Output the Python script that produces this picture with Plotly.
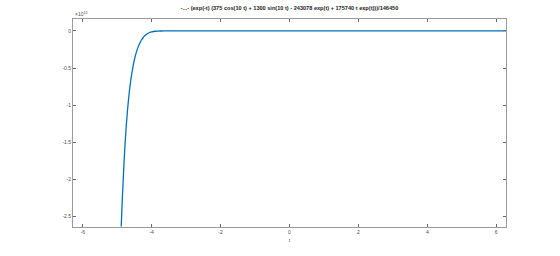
import plotly.graph_objects as go

# t values and f(t) values (in units of 1e10)
t_vals = [-4.884, -4.85, -4.80, -4.75, -4.70, -4.65, -4.60, -4.55, -4.50, -4.45,
          -4.40, -4.35, -4.30, -4.25, -4.20, -4.15, -4.10, -4.05, -4.00, -3.95,
          -3.90, -3.80, -3.70, -3.60, -3.40, -3.20, -3.00, -2.00, 0.00, 2.00,
          4.00, 6.2832]
y_vals = [-2.63, -2.24, -1.75, -1.36, -1.06, -0.826, -0.643, -0.50, -0.385, -0.295,
          -0.225, -0.170, -0.126, -0.092, -0.066, -0.046, -0.031, -0.020, -0.013, -0.008,
          -0.005, -0.0025, -0.0012, -0.0006, -0.0002, -0.0001, 0.0, 0.0, 0.0, 0.0,
          0.0, 0.0]

x_ticks = [-6, -4, -2, 0, 2, 4, 6]
x_tick_text = ["-6", "-4", "-2", "0", "2", "4", "6"]
y_ticks = [0, -0.5, -1, -1.5, -2, -2.5]
y_tick_text = ["0", "-0.5", "-1", "-1.5", "-2", "-2.5"]

title_text = ("-...- (exp(-t) (375 cos(10 t) + 1300 sin(10 t) - 243078 exp(t) "
              "+ 175740 t exp(t)))/146450")

FONT = "Liberation Sans, Arial, sans-serif"

fig = go.Figure()
fig.add_trace(go.Scatter(
    x=t_vals, y=y_vals, mode="lines",
    line=dict(color="#0072BD", width=1.3, shape="spline", smoothing=0.6),
    showlegend=False, hoverinfo="skip",
))

axis_common = dict(
    showgrid=False, zeroline=False, showline=True, linecolor="#9a9a9a",
    linewidth=1, mirror="ticks", ticks="inside", ticklen=3,
    tickcolor="#6a6a6a", tickwidth=1,
    tickfont=dict(family=FONT, size=5, color="#4d4d4d"),
)

fig.update_layout(
    width=560, height=256, autosize=False,
    margin=dict(l=73, r=54, t=19, b=29, pad=0),
    paper_bgcolor="white", plot_bgcolor="white",
    xaxis=dict(range=[-6.2832, 6.2832], tickvals=x_ticks, ticktext=x_tick_text,
               title=dict(text="t", standoff=4,
                          font=dict(family=FONT, size=5, color="#4d4d4d")),
               **axis_common),
    yaxis=dict(range=[-2.638, 0.16], tickvals=y_ticks, ticktext=y_tick_text,
               **axis_common),
    title=dict(text="<b>" + title_text + "</b>", x=(73 + 506) / 2 / 560, xanchor="center",
               y=1 - 8 / 256, yanchor="middle",
               font=dict(family=FONT, size=5.6, color="#222222")),
    annotations=[dict(
        text="×10<sup>10</sup>", xref="paper", yref="paper", x=0, y=1,
        xanchor="left", yanchor="bottom", yshift=0, showarrow=False,
        font=dict(family=FONT, size=5, color="#4d4d4d"),
    )],
)

fig.write_html("out.html")
